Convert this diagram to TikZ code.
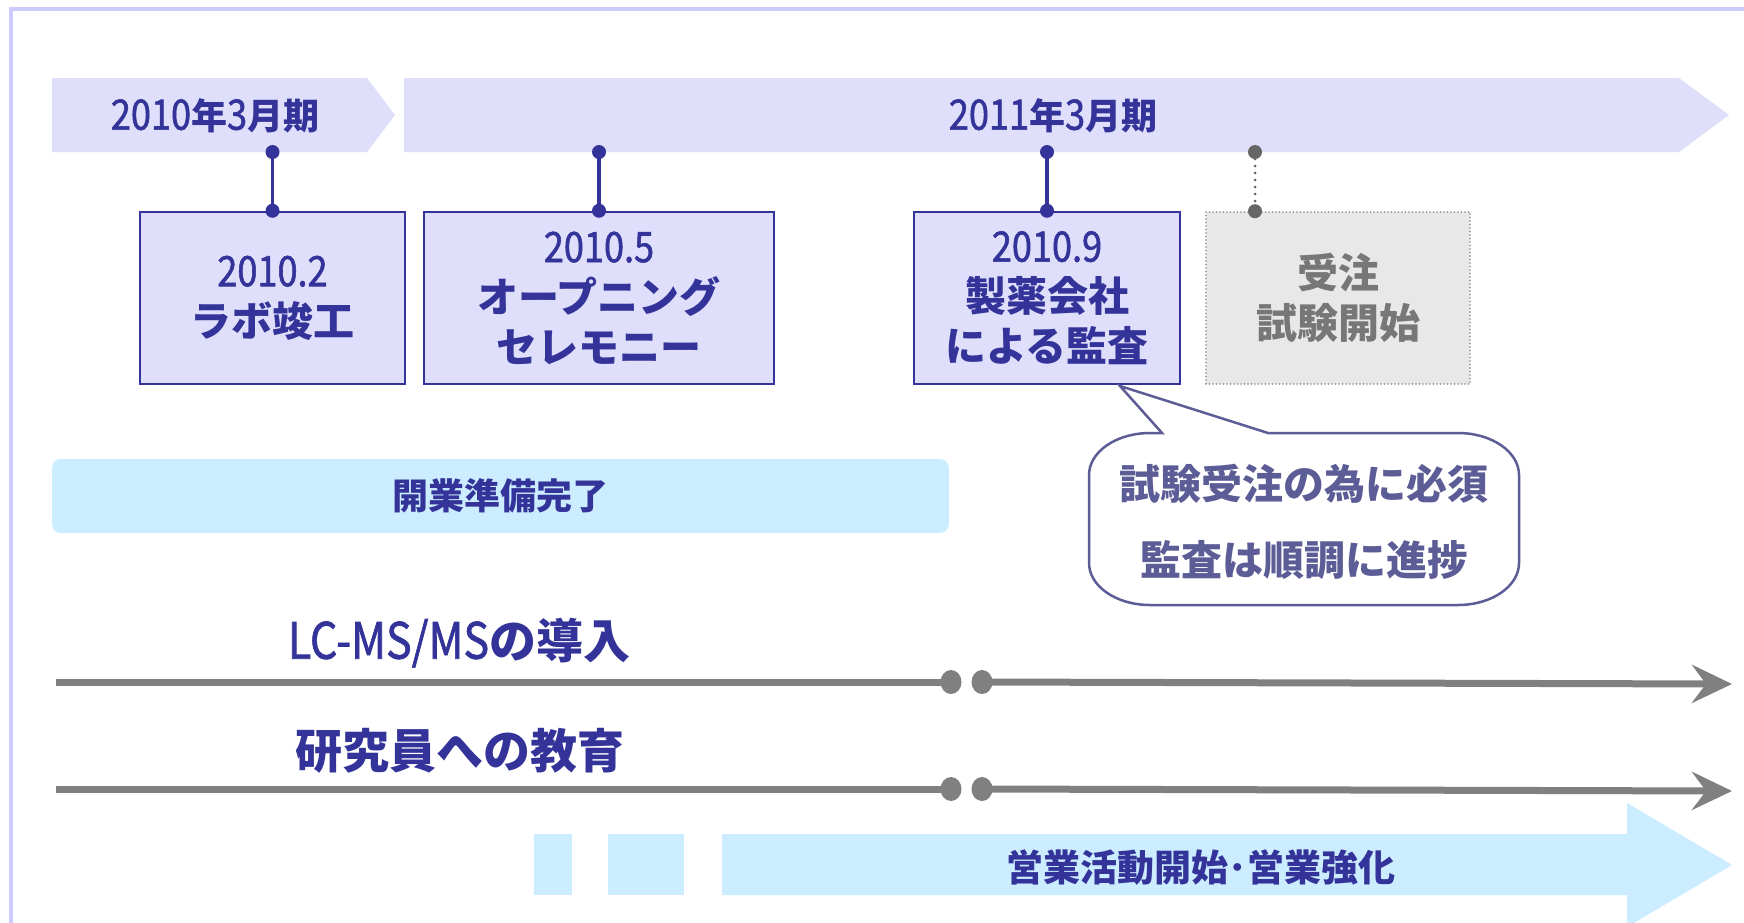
\documentclass[tikz,border=0pt]{standalone}
\usepackage{fontspec}
\setmainfont{Noto Sans CJK JP}
\newfontfamily\latfont[FakeStretch=0.86,FakeBold=1.3]{Noto Sans CJK JP}
\newcommand\latn[2][42]{{\latfont\mdseries\fontsize{#1}{#1}\selectfont #2}}
\usetikzlibrary{arrows.meta,shapes.geometric}
\definecolor{navy}{RGB}{51,51,153}
\definecolor{bandc}{RGB}{223,223,252}
\definecolor{framec}{RGB}{204,204,255}
\definecolor{lblue}{RGB}{204,236,255}
\definecolor{slate}{RGB}{92,92,150}
\definecolor{glinec}{RGB}{128,128,128}
\definecolor{gdark}{RGB}{102,102,102}
\definecolor{gtext}{RGB}{119,119,119}
\definecolor{gfill}{RGB}{232,232,232}
\definecolor{gborder}{RGB}{136,136,136}
\begin{document}
\begin{tikzpicture}[x=1pt,y=-1pt,
  band/.style={fill=bandc},
  bandtext/.style={text=navy,inner sep=0pt,font=\fontsize{36}{40}\selectfont\bfseries},
  evbox/.style={draw=navy,line width=2.5pt,fill=bandc,minimum height=172pt,inner sep=0pt,align=center,text=navy,font=\fontsize{41}{50}\selectfont\bfseries},
  gbox/.style={draw=gborder,line width=1.6pt,dash pattern=on 0pt off 3.5pt,line cap=round,fill=gfill,minimum height=172pt,inner sep=0pt,align=center,text=gtext,font=\fontsize{41}{50}\selectfont\bfseries},
  stemline/.style={draw=navy,line width=3.5pt},
  ndot/.style={circle,fill=navy,minimum size=14pt,inner sep=0pt},
  gstemline/.style={draw=gdark,line width=3pt,dash pattern=on 0pt off 7pt,line cap=round},
  gdotsmall/.style={circle,fill=gdark,minimum size=14pt,inner sep=0pt},
  calloutline/.style={draw=slate,line width=2.5pt,fill=white},
  callouttext/.style={text=slate,align=center,inner sep=0pt,font=\fontsize{41}{76}\selectfont\bfseries},
  barbox/.style={fill=lblue,rounded corners=9pt,inner sep=0pt,text=navy,font=\fontsize{36}{40}\selectfont\bfseries},
  linetext/.style={text=navy,inner sep=0pt,font=\fontsize{47}{50}\selectfont\bfseries},
  gline/.style={draw=glinec,line width=7pt},
  gdot/.style={ellipse,fill=glinec,minimum width=21pt,minimum height=24pt,inner sep=0pt},
  lbluefill/.style={fill=lblue},
  bottomtext/.style={text=navy,inner sep=0pt,font=\fontsize{37}{40}\selectfont\bfseries}
]
\clip (0,0) rectangle (1744,922);
\fill[white] (0,0) rectangle (1744,922);
% frame
\draw[framec,line width=4pt] (11,940) -- (11,9) -- (1760,9);

% period bands
\fill[band] (52,78) -- (367,78) -- (395,115) -- (367,152) -- (52,152) -- cycle;
\fill[band] (404,78) -- (1679,78) -- (1729,115) -- (1679,152) -- (404,152) -- cycle;
\node[bandtext] (p1) at (215,116) {\latn{2010}年\latn{3}月期};
\node[bandtext] (p2) at (1053,116) {\latn{2011}年\latn{3}月期};

% event boxes
\node[evbox,minimum width=265pt] (b1) at (272.5,298) {\latn{2010.2}\\ラボ竣工};
\node[evbox,minimum width=350pt] (b2) at (599,298) {\latn{2010.5}\\オープニング\\セレモニー};
\node[evbox,minimum width=266pt] (b3) at (1047,298) {\latn{2010.9}\\製薬会社\\による監査};
\node[gbox,minimum width=264pt] (b4) at (1338,298) {受注\\試験開始};

% stems
\coordinate (s1) at (272.5,152);
\coordinate (s2) at (599,152);
\coordinate (s3) at (1047,152);
\coordinate (s4) at (1255,152);
\draw[stemline] (s1) -- (b1.north);
\draw[stemline] (s2) -- (b2.north);
\draw[stemline] (s3) -- (b3.north);
\node[ndot] (s1a) at (s1) {};
\node[ndot] (s1b) at (b1.north) {};
\node[ndot] (s2a) at (s2) {};
\node[ndot] (s2b) at (b2.north) {};
\node[ndot] (s3a) at (s3) {};
\node[ndot] (s3b) at (b3.north) {};
\coordinate (s4e) at (s4 |- b4.north);
\draw[gstemline] (s4) -- (s4e);
\node[gdotsmall] (s4a) at (s4) {};
\node[gdotsmall] (s4b) at (s4e) {};

% callout
\draw[calloutline] (1150,433) -- (1162,433) -- (1120,386) -- (1268,433) -- (1458,433)
  arc[start angle=-90,end angle=0,x radius=61,y radius=42] -- (1519,563)
  arc[start angle=0,end angle=90,x radius=61,y radius=42] -- (1150,605)
  arc[start angle=90,end angle=180,x radius=61,y radius=42] -- (1089,475)
  arc[start angle=180,end angle=270,x radius=61,y radius=42] -- cycle;
\node[callouttext] (c1) at (1304,522) {試験受注の為に必須\\監査は順調に進捗};

% preparation bar
\node[barbox,minimum width=897pt,minimum height=74pt] (bar) at (500.5,496) {開業準備完了};

% LC-MS line
\node[linetext] (lt1) at (459,643) {\latn[50]{LC-MS/MS}の導入};
\coordinate (l1s) at (56,682);
\node[gdot] (d1a) at (951,682) {};
\node[gdot] (d1b) at (982,682) {};
\coordinate (l1e) at (1732,684);
\draw[gline] (l1s) -- (d1a.center);
\draw[gline,-{Stealth[length=40pt,width=38pt,inset=14pt]}] (d1b.center) -- (l1e);

% training line
\node[linetext] (lt2) at (460,751) {研究員への教育};
\coordinate (l2s) at (56,789);
\node[gdot] (d2a) at (951,789) {};
\node[gdot] (d2b) at (982,789) {};
\coordinate (l2e) at (1732,791);
\draw[gline] (l2s) -- (d2a.center);
\draw[gline,-{Stealth[length=40pt,width=38pt,inset=14pt]}] (d2b.center) -- (l2e);

% sales arrow
\fill[lbluefill] (534,834) rectangle (572,895);
\fill[lbluefill] (608,834) rectangle (684,895);
\fill[lbluefill] (722,834) -- (1627,834) -- (1627,803) -- (1732,865) -- (1627,927) -- (1627,895) -- (722,895) -- cycle;
\node[bottomtext] (st) at (1201,867) {営業活動開始･営業強化};
\end{tikzpicture}
\end{document}
